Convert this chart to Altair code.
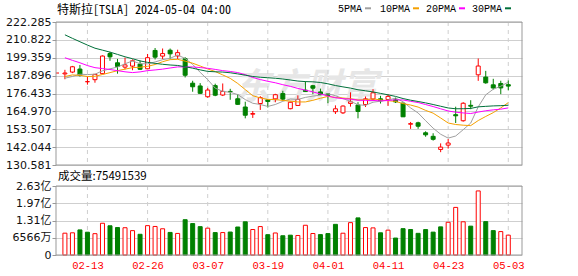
import json
import numpy as np
import pandas as pd
import altair as alt

# ---------------- data ----------------
dates = ["02-08", "02-09", "02-12", "02-13", "02-14", "02-15", "02-16", "02-20", "02-21", "02-22",
         "02-23", "02-26", "02-27", "02-28", "02-29", "03-01", "03-04", "03-05", "03-06", "03-07",
         "03-08", "03-11", "03-12", "03-13", "03-14", "03-15", "03-18", "03-19", "03-20", "03-21",
         "03-22", "03-25", "03-26", "03-27", "03-28", "04-01", "04-02", "04-03", "04-04", "04-05",
         "04-08", "04-09", "04-10", "04-11", "04-12", "04-15", "04-16", "04-17", "04-18", "04-19",
         "04-22", "04-23", "04-24", "04-25", "04-26", "04-29", "04-30", "05-01", "05-02", "05-03"]
opens = [189.00, 190.18, 192.11, 183.99, 185.30, 189.16, 202.06, 196.13, 193.36, 194.00,
         195.31, 192.29, 204.04, 200.42, 204.18, 200.52, 198.73, 183.05, 181.27, 174.35,
         181.50, 175.45, 177.77, 173.05, 167.77, 163.16, 170.02, 172.36, 173.00, 176.39,
         166.69, 168.76, 178.58, 181.41, 177.45, 176.17, 164.75, 164.02, 170.07, 169.08,
         169.34, 172.91, 173.04, 172.55, 172.34, 170.24, 156.74, 157.64, 151.25, 148.97,
         140.56, 143.33, 162.84, 158.96, 168.85, 188.42, 186.98, 182.00, 182.86, 182.10]
highs = [191.62, 194.12, 194.73, 187.26, 188.89, 200.88, 203.17, 198.60, 199.44, 198.32,
         197.57, 201.78, 205.60, 205.30, 205.28, 204.52, 199.75, 184.59, 183.09, 180.04,
         182.73, 182.87, 179.43, 176.05, 171.17, 165.18, 174.72, 172.82, 176.25, 178.18,
         171.20, 175.24, 184.25, 181.91, 179.57, 176.75, 168.82, 168.82, 177.19, 170.86,
         174.50, 179.22, 174.93, 175.88, 173.81, 170.69, 158.19, 158.33, 152.20, 150.94,
         144.44, 147.26, 167.97, 170.88, 172.12, 198.87, 190.95, 185.86, 184.60, 184.78]
lows = [185.58, 189.48, 187.28, 182.11, 183.35, 188.86, 197.40, 189.13, 191.95, 191.36,
        191.50, 192.00, 198.26, 198.44, 198.45, 198.50, 186.72, 177.57, 176.25, 173.70,
        174.70, 174.80, 172.41, 169.15, 160.51, 160.76, 165.90, 167.42, 170.82, 171.80,
        166.30, 168.73, 177.38, 176.00, 175.30, 170.21, 163.28, 163.28, 168.01, 160.51,
        167.79, 171.92, 170.01, 168.51, 170.36, 161.38, 153.75, 153.78, 148.70, 146.22,
        138.80, 141.11, 157.51, 158.36, 166.37, 184.54, 182.69, 179.01, 176.02, 178.42]
closes = [189.56, 193.57, 188.13, 184.02, 188.71, 200.45, 199.95, 193.76, 194.77, 197.41,
          191.97, 199.40, 199.73, 202.04, 201.88, 202.64, 188.14, 180.74, 176.54, 178.65,
          175.34, 177.77, 177.54, 169.48, 162.50, 163.57, 173.80, 171.32, 175.66, 172.82,
          170.83, 172.63, 177.67, 179.83, 175.79, 175.22, 166.63, 168.38, 171.11, 164.90,
          172.98, 176.88, 171.76, 174.60, 171.05, 161.48, 157.11, 155.45, 149.93, 147.05,
          142.05, 144.68, 162.13, 170.18, 168.29, 194.05, 183.28, 179.99, 180.01, 181.19]
volumes = [83030000, 84480000, 95500000, 86760000, 81200000, 120830000, 111170000, 104550000, 103840000, 92740000,
           78840000, 111750000, 108650000, 99810000, 85910000, 82100000, 134330000, 119660000, 107920000, 102130000,
           85320000, 85390000, 87390000, 106520000, 126330000, 96970000, 108210000, 77270000, 83850000, 73320000,
           75450000, 74230000, 113190000, 81800000, 77650000, 81560000, 116650000, 82950000, 123160000, 141250000,
           104420000, 103230000, 84530000, 94520000, 64510000, 100250000, 97000000, 82440000, 96790000, 87070000,
           107100000, 124550000, 181180000, 126430000, 109820000, 243870000, 127030000, 92830000, 89150000, 75491539]
ma5 = [186.24, 187.37, 188.79, 188.57, 188.80, 190.98, 192.25, 193.38, 195.53, 197.27,
       195.57, 195.46, 196.66, 198.11, 199.00, 201.14, 198.89, 195.09, 189.99, 185.34,
       179.88, 177.81, 177.17, 175.76, 172.53, 170.17, 169.38, 168.13, 169.37, 171.43,
       172.89, 172.65, 173.92, 174.76, 175.35, 176.23, 175.03, 173.17, 171.43, 169.25,
       168.80, 170.85, 171.53, 172.22, 173.45, 171.15, 167.20, 163.94, 159.00, 154.20,
       150.32, 147.83, 149.17, 153.22, 157.47, 167.87, 175.59, 179.16, 181.12, 183.70]
ma10 = [187.31, 188.35, 188.07, 187.31, 187.45, 188.61, 189.81, 191.08, 192.05, 193.03,
        193.27, 193.86, 195.02, 196.82, 198.14, 198.36, 197.17, 195.87, 194.05, 192.17,
        190.51, 188.35, 186.13, 182.87, 178.93, 175.03, 173.59, 172.65, 172.56, 171.98,
        171.53, 171.02, 171.03, 172.06, 173.39, 174.56, 173.84, 173.55, 173.09, 172.30,
        172.51, 172.94, 172.35, 171.83, 171.35, 169.98, 169.03, 167.73, 165.61, 163.83,
        160.74, 157.52, 156.55, 156.11, 155.84, 159.09, 161.71, 164.16, 167.17, 170.59]
ma20 = [199.36, 197.68, 196.14, 194.34, 193.00, 192.43, 191.82, 191.07, 190.35, 189.83,
        190.29, 191.10, 191.54, 192.06, 192.79, 193.48, 193.49, 193.48, 193.05, 192.60,
        191.89, 191.10, 190.57, 189.85, 188.54, 186.69, 185.38, 184.26, 183.31, 182.08,
        181.02, 179.68, 178.58, 177.47, 176.16, 174.79, 173.72, 173.10, 172.83, 172.14,
        172.02, 171.98, 171.69, 171.94, 172.37, 172.27, 171.43, 170.64, 169.35, 168.06,
        166.63, 165.23, 164.45, 163.97, 163.59, 164.53, 165.37, 165.95, 166.39, 167.21]
ma30 = [214.06, 211.80, 209.63, 207.48, 205.49, 204.23, 202.96, 201.50, 199.98, 198.73,
        197.33, 196.40, 195.76, 195.17, 194.71, 194.41, 193.60, 192.67, 191.58, 190.61,
        190.37, 190.18, 189.74, 189.00, 188.17, 187.33, 186.86, 186.54, 186.22, 185.73,
        185.10, 184.41, 184.06, 183.92, 183.49, 182.65, 181.54, 180.69, 179.90, 178.82,
        178.18, 177.43, 176.50, 175.59, 174.56, 173.19, 172.15, 171.31, 170.42, 169.37,
        168.26, 167.16, 166.64, 166.67, 166.86, 167.88, 168.19, 168.48, 168.63, 168.90]
prev_close_before = 187.58
ref_price = [189.56]

price_ticks = [130.581, 142.044, 153.507, 164.970, 176.433, 187.896, 199.359, 210.822, 222.285]
vol_ticks = [0, 65660000, 131320000, 196980000, 262640000]
label_dates = ["02-13", "02-26", "03-07", "03-19", "04-01", "04-11", "04-23", "05-03"]
ma_names = ["5PMA", "10PMA", "20PMA", "30PMA"]
ma_fields = ["ma5", "ma10", "ma20", "ma30"]
title_text = "特斯拉[TSLA] 2024-05-04 04:00"
watermark_text = "东方财富"

# ---------------- styles / layout ----------------
RED = "#ff0000"
GREEN = "#008000"
ma_colors = ["#a0a0a0", "#f5a000", "#ff00ff", "#00703a"]
GRID = "#cfcfcf"
BORDER = "#999999"
W, H = 466, 233
PRICE_BOTTOM = 143
VOL_TOP = 164
MONO = "Liberation Mono, DejaVu Sans Mono, monospace"
TITLE_FONT = "Noto Sans Mono CJK SC, Liberation Mono, Noto Sans CJK SC"
AXIS_FONT = "DejaVu Sans, Noto Sans CJK SC"

n = len(dates)
df = pd.DataFrame({
    "idx": np.arange(n), "date": dates, "open": opens, "high": highs, "low": lows,
    "close": closes, "volume": volumes,
    "prev": [prev_close_before] + closes[:-1],
    "ma5": ma5, "ma10": ma10, "ma20": ma20, "ma30": ma30,
})

xscale = alt.Scale(domain=[-0.52, 60.16], nice=False, zero=False)
xaxis = alt.Axis(values=[dates.index(d) for d in label_dates],
                 labelExpr=f"{json.dumps(dates)}[datum.value]",
                 title=None, grid=False, domain=False, ticks=False,
                 labelColor=RED, labelFont=MONO, labelFontSize=10.5,
                 labelPadding=5, labelFlush=False, labelOverlap=False)


def X():
    return alt.X("idx:Q", scale=xscale, axis=xaxis)


pscale = alt.Scale(domain=[price_ticks[0], price_ticks[-1]], range=[PRICE_BOTTOM, 0], nice=False, zero=False)
paxis = alt.Axis(values=price_ticks, format=".3f", title=None, orient="left",
                 domain=False, grid=True, gridColor=GRID, gridWidth=1,
                 tickColor=BORDER, tickSize=4, labelPadding=1,
                 labelFont=AXIS_FONT, labelFontSize=11, labelColor="#111",
                 labelFlush=False, labelOverlap=False)


def PY(field):
    return alt.Y(f"{field}:Q", scale=pscale, axis=paxis)


vscale = alt.Scale(domain=[0, vol_ticks[-1]], range=[H, VOL_TOP], nice=False, zero=True)
vaxis = alt.Axis(values=vol_ticks, title=None, orient="left",
                 labelExpr="datum.value == 0 ? '0' : (datum.value < 1e8 ? format(datum.value / 1e4, '.0f') + '万' : format(datum.value / 1e8, '.2f') + '亿')",
                 domain=False, grid=True, gridColor=GRID, gridWidth=1,
                 tickColor=BORDER, tickSize=4, labelPadding=1,
                 labelFont=AXIS_FONT, labelFontSize=11, labelColor="#111",
                 labelFlush=False, labelOverlap=False)

base = alt.Chart(df)
up = "datum.close >= datum.open"
down = "datum.close < datum.open"

wick_up = base.transform_filter(up).mark_rule(color=RED, strokeWidth=1).encode(
    x=X(), y=PY("low"), y2=alt.Y2("high:Q"))
wick_down = base.transform_filter(down).mark_rule(color=GREEN, strokeWidth=1).encode(
    x=X(), y=PY("low"), y2=alt.Y2("high:Q"))
body_up = base.transform_filter(up).mark_bar(width=4, fill="white", stroke=RED, strokeWidth=1).encode(
    x=X(), y=PY("open"), y2=alt.Y2("close:Q"))
body_down = base.transform_filter(down).mark_bar(width=4, fill=GREEN, stroke=GREEN, strokeWidth=1).encode(
    x=X(), y=PY("open"), y2=alt.Y2("close:Q"))
ma_layers = [base.mark_line(color=c, strokeWidth=1).encode(x=X(), y=PY(f))
             for f, c in zip(ma_fields, ma_colors)]
ref_tick = alt.Chart(pd.DataFrame({"p": ref_price})).mark_rule(color=RED, strokeWidth=1).encode(
    x=alt.value(0), x2=alt.value(3), y=PY("p"))

price_group = alt.layer(wick_up, wick_down, body_up, body_down, *ma_layers, ref_tick)

vol_up = base.transform_filter("datum.close >= datum.prev").mark_bar(
    width=4, fill="white", stroke=RED, strokeWidth=1).encode(
    x=X(), y=alt.Y("volume:Q", scale=vscale, axis=vaxis))
vol_down = base.transform_filter("datum.close < datum.prev").mark_bar(
    width=4, fill=GREEN, stroke=GREEN, strokeWidth=1).encode(
    x=X(), y=alt.Y("volume:Q", scale=vscale, axis=vaxis))
volume_group = alt.layer(vol_up, vol_down)

tick_df = pd.DataFrame({"idx": [dates.index(d) for d in label_dates]})
vgrid_p = alt.Chart(tick_df).mark_rule(color=GRID, strokeDash=[4, 4], strokeWidth=1).encode(
    x=X(), y=alt.value(0), y2=alt.value(PRICE_BOTTOM))
vgrid_v = alt.Chart(tick_df).mark_rule(color=GRID, strokeDash=[4, 4], strokeWidth=1).encode(
    x=X(), y=alt.value(VOL_TOP), y2=alt.value(H))

one = alt.Data(values=[{"t": ""}])
border_p = alt.Chart(one).mark_rect(fillOpacity=0, stroke=BORDER, strokeWidth=1).encode(
    x=alt.value(0), x2=alt.value(W), y=alt.value(0), y2=alt.value(PRICE_BOTTOM))
border_v = alt.Chart(one).mark_rect(fillOpacity=0, stroke=BORDER, strokeWidth=1).encode(
    x=alt.value(0), x2=alt.value(W), y=alt.value(VOL_TOP), y2=alt.value(H))

watermark = alt.Chart(alt.Data(values=[{"t": watermark_text}])).mark_text(
    font="Noto Sans CJK SC", fontSize=36, fontWeight="bold", fontStyle="italic", color="#e6e6e6",
    align="center", baseline="middle").encode(
    text="t:N", x=alt.value(250), y=alt.value(66))

title = alt.Chart(alt.Data(values=[{"t": title_text}])).mark_text(
    font=TITLE_FONT, fontSize=12, color="#000", align="left", baseline="middle").encode(
    text="t:N", x=alt.value(1), y=alt.value(-12))

vol_label = alt.Chart(alt.Data(values=[{"t": f"成交量:{volumes[-1]}"}])).mark_text(
    font="Noto Sans CJK SC", fontSize=11.5, color="#000", align="left", baseline="middle").encode(
    text="t:N", x=alt.value(2), y=alt.value(155))

legend_layers = []
legend_text_x = [282, 324, 370, 416]
legend_swatch_x = [309, 357, 403, 449]
for name, color, tx, sx in zip(ma_names, ma_colors, legend_text_x, legend_swatch_x):
    legend_layers.append(alt.Chart(alt.Data(values=[{"t": name}])).mark_text(
        font=MONO, fontSize=10, color="#000", align="left", baseline="middle").encode(
        text="t:N", x=alt.value(tx), y=alt.value(-13.5)))
    legend_layers.append(alt.Chart(one).mark_rect(fill=color).encode(
        x=alt.value(sx), x2=alt.value(sx + 6), y=alt.value(-14.7), y2=alt.value(-12.7)))

chart = alt.layer(
    watermark, vgrid_p, vgrid_v, price_group, volume_group, border_p, border_v,
    title, vol_label, *legend_layers
).resolve_scale(y="independent").resolve_axis(y="independent").properties(
    width=W, height=H,
    autosize=alt.AutoSizeParams(type="none"),
    padding={"left": 56, "top": 22, "right": 56, "bottom": 21},
    background="white",
).configure_view(stroke=None)

chart.save("out.html", embed_options={"renderer": "svg", "actions": False})
